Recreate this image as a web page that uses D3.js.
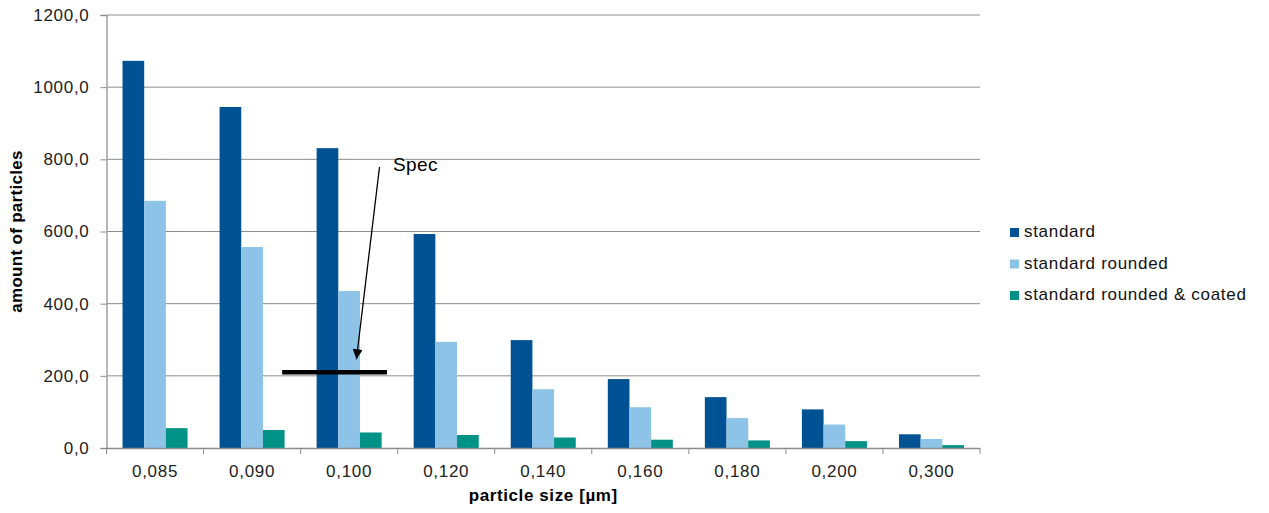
<!DOCTYPE html>
<html>
<head>
<meta charset="utf-8">
<script src="https://cdn.jsdelivr.net/npm/d3@7"></script>
<style>
  html, body { margin: 0; padding: 0; background: #fff; }
  svg { display: block; font-family: "Liberation Sans", Arial, sans-serif; }
</style>
</head>
<body>
<svg id="chart" width="1269" height="513"></svg>
<script>
// Particle counts per size class
const categories = ["0,085", "0,090", "0,100", "0,120", "0,140", "0,160", "0,180", "0,200", "0,300"];
const seriesNames = ["standard", "standard rounded", "standard rounded & coated"];
const standard = [1073, 945, 831, 593, 299, 191, 141, 107, 38];
const standardRounded = [685, 557, 435, 294, 163, 113, 83, 65, 25];
const standardRoundedCoated = [55, 50, 43, 36, 29, 23, 21, 19, 8];
const seriesColors = ["#005293", "#8ec3e8", "#009286"];
const yTicks = [0, 200, 400, 600, 800, 1000, 1200];
const specValue = 210;
const specCategory = "0,100";

const series = [standard, standardRounded, standardRoundedCoated];

const svg = d3.select("#chart");
const margin = { left: 106.5, right: 289, top: 15, bottom: 65 };
const W = 1269, H = 513;
const innerW = W - margin.left - margin.right;
const innerH = H - margin.top - margin.bottom;
const labelFont = 17;
const labelSpacing = "0.7px";

const g = svg.append("g").attr("transform", `translate(${margin.left},${margin.top})`);

const x = d3.scaleBand().domain(categories).range([0, innerW]).paddingInner(0).paddingOuter(0);
const xSub = d3.scaleBand().domain(d3.range(series.length)).range([x.bandwidth() * 0.165, x.bandwidth() * 0.835]);
const y = d3.scaleLinear().domain([0, 1200]).range([innerH, 0]);

const fmt = v => d3.format(".1f")(v).replace(".", ",");

// Horizontal gridlines
g.append("g").selectAll("line").data(yTicks.filter(t => t > 0)).join("line")
  .attr("x1", 0).attr("x2", innerW)
  .attr("y1", d => y(d)).attr("y2", d => y(d))
  .attr("stroke", "#8c8c8c").attr("stroke-width", 1);

// Bars
series.forEach((vals, si) => {
  g.append("g").selectAll("rect").data(vals).join("rect")
    .attr("x", (d, i) => x(categories[i]) + xSub(si))
    .attr("y", d => y(d))
    .attr("width", xSub.bandwidth())
    .attr("height", d => innerH - y(d))
    .attr("fill", seriesColors[si]);
});

// Y axis
const yAxis = g.append("g").call(d3.axisLeft(y).tickValues(yTicks).tickFormat(fmt).tickSize(6).tickPadding(11));
yAxis.select(".domain").attr("stroke", "#a0a0a0").attr("stroke-width", 1.5);
yAxis.selectAll(".tick line").attr("stroke", "#8c8c8c");
yAxis.selectAll("text").attr("font-size", labelFont).attr("letter-spacing", labelSpacing)
  .attr("fill", "#222").attr("font-family", "Liberation Sans, Arial, sans-serif");

// X axis
const xAxis = g.append("g").attr("transform", `translate(0,${innerH})`)
  .call(d3.axisBottom(x).tickSize(0).tickPadding(17));
xAxis.select(".domain").attr("stroke", "#8c8c8c").attr("stroke-width", 1.5);
xAxis.selectAll("text").attr("font-size", labelFont).attr("letter-spacing", labelSpacing)
  .attr("fill", "#222").attr("font-family", "Liberation Sans, Arial, sans-serif");
// Category separators
g.append("g").selectAll("line").data(d3.range(categories.length + 1)).join("line")
  .attr("x1", i => i * x.step()).attr("x2", i => i * x.step())
  .attr("y1", innerH).attr("y2", innerH + 6)
  .attr("stroke", "#8c8c8c");

// Axis titles
svg.append("text")
  .attr("transform", `translate(22,${margin.top + innerH / 2}) rotate(-90)`)
  .attr("text-anchor", "middle")
  .attr("font-size", 17).attr("font-weight", "bold").attr("letter-spacing", "0.3px").attr("fill", "#000")
  .text("amount of particles");
svg.append("text")
  .attr("x", margin.left + innerW / 2).attr("y", 501)
  .attr("text-anchor", "middle")
  .attr("font-size", 17).attr("font-weight", "bold").attr("letter-spacing", "0.6px").attr("fill", "#000")
  .text("particle size [µm]");

// Spec threshold marker with annotation arrow
const specX0 = x(specCategory) - x.step() * 0.19;
const specX1 = x(specCategory) + x.step() * 0.89;
g.append("line")
  .attr("x1", specX0).attr("x2", specX1)
  .attr("y1", y(specValue)).attr("y2", y(specValue))
  .attr("stroke", "#000").attr("stroke-width", 4.5);

svg.append("defs").append("marker")
  .attr("id", "arrowhead").attr("viewBox", "0 0 10 10")
  .attr("refX", 10).attr("refY", 5)
  .attr("markerWidth", 12).attr("markerHeight", 10)
  .attr("markerUnits", "userSpaceOnUse")
  .attr("orient", "auto")
  .append("path").attr("d", "M0,0 L10,5 L0,10 Z").attr("fill", "#000");

const tipX = x(specCategory) + x.step() * 0.575;
const tipY = y(specValue) - 13;
svg.append("line")
  .attr("x1", 379.5).attr("y1", 167)
  .attr("x2", margin.left + tipX).attr("y2", margin.top + tipY)
  .attr("stroke", "#000").attr("stroke-width", 1.3)
  .attr("marker-end", "url(#arrowhead)");

svg.append("text")
  .attr("x", 393).attr("y", 171)
  .attr("font-size", 19).attr("letter-spacing", "0.4px").attr("fill", "#000")
  .text("Spec");

// Legend
const legend = svg.append("g").attr("transform", "translate(1010,237)");
seriesNames.forEach((name, i) => {
  const row = legend.append("g").attr("transform", `translate(0,${i * 31.5})`);
  row.append("rect").attr("x", 0).attr("y", -9).attr("width", 9).attr("height", 9).attr("fill", seriesColors[i]);
  row.append("text").attr("x", 14).attr("y", 0).attr("font-size", labelFont).attr("letter-spacing", labelSpacing)
    .attr("fill", "#111").text(name);
});
</script>
</body>
</html>
